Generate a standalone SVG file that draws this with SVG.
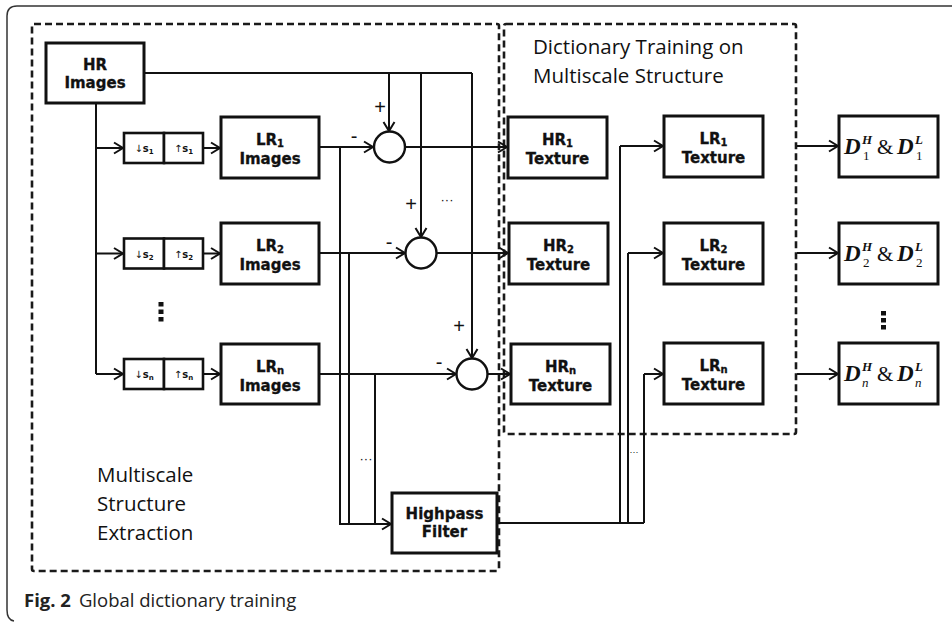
<svg xmlns="http://www.w3.org/2000/svg" width="952" height="622" viewBox="0 0 952 622">
<style>
  .frame{fill:none;stroke:#333;stroke-width:1.5}
  .region{fill:none;stroke:#1a1a1a;stroke-width:2.6;stroke-dasharray:7 4}
  .box{fill:#fff;stroke:#111;stroke-width:3}
  .sbox{fill:#fff;stroke:#111;stroke-width:2.6}
  .sum{fill:#fff;stroke:#111;stroke-width:2.4}
  .wire{fill:none;stroke:#111;stroke-width:2}
  .arrow{fill:none;stroke:#111;stroke-width:2;marker-end:url(#head)}
  .lbl{font-family:"DejaVu Sans",sans-serif;font-weight:bold;font-size:15px;fill:#111;text-anchor:middle;stroke:#111;stroke-width:0.3}
  .sub{font-size:10px}
  .tiny{font-family:"DejaVu Sans",sans-serif;font-weight:bold;font-size:10px;fill:#111;text-anchor:middle}
  .title{font-family:"Open Sans",sans-serif;font-size:20.5px;fill:#111}
  .sign{font-family:"Liberation Sans",sans-serif;font-size:20px;fill:#111;text-anchor:middle}
  .ell{font-family:"Liberation Sans",sans-serif;font-size:13px;fill:#111;text-anchor:middle}
  .math{font-family:"Liberation Serif",serif;fill:#111}
  .big{font-size:23px;font-weight:bold;font-style:italic}
  .sup{font-size:13px;font-weight:bold;font-style:italic}
  .low{font-size:13px}
  .amp{font-size:21px}
  .cap{font-family:"Open Sans",sans-serif;font-size:18.5px;fill:#222}
  .dot{fill:#111}
</style>
<defs>
  <marker id="head" viewBox="-10 -7 12 14" refX="0" refY="0" markerWidth="12" markerHeight="14" markerUnits="userSpaceOnUse" orient="auto">
    <path d="M-9,-5.5 L0,0 L-9,5.5" fill="none" stroke="#111" stroke-width="2"/>
  </marker>
</defs>

<rect width="952" height="622" fill="#fff"/>
<!-- page frame -->
<path class="frame" d="M952,6 H17 Q7,6 7,16 V610 Q7,620 14,621"/>

<!-- regions -->
<g id="region-extraction">
  <rect class="region" x="32" y="24" width="467" height="547" rx="2"/>
  <text class="title" x="97" y="482">Multiscale</text>
  <text class="title" x="97" y="511">Structure</text>
  <text class="title" x="97" y="540">Extraction</text>
</g>
<g id="region-training">
  <rect class="region" x="504" y="24" width="292" height="410" rx="2"/>
  <text class="title" x="533" y="54">Dictionary Training on</text>
  <text class="title" x="533" y="83">Multiscale Structure</text>
</g>

<!-- connectors -->
<g id="connectors">
  <!-- HR images to the three adders -->
  <path class="wire" d="M144,73 H472"/>
  <path class="arrow" d="M389,73 V131"/>
  <path class="arrow" d="M421,73 V237"/>
  <path class="arrow" d="M472,73 V358"/>
  <!-- HR images down to the scaling stages -->
  <path class="wire" d="M96,103 V374"/>
  <path class="arrow" d="M96,148 H123"/>
  <path class="arrow" d="M96,253.5 H123"/>
  <path class="arrow" d="M96,374 H123"/>
  <path class="arrow" d="M203,148 H220"/>
  <path class="arrow" d="M203,253.5 H220"/>
  <path class="arrow" d="M203,374 H220"/>
  <!-- LR images to adders -->
  <path class="arrow" d="M319,147 H373"/>
  <path class="arrow" d="M319,253 H405"/>
  <path class="arrow" d="M319,374 H456"/>
  <!-- LR images to highpass filter -->
  <path class="wire" d="M340,147 V524"/>
  <path class="wire" d="M349,253 V524"/>
  <path class="wire" d="M375,374 V524"/>
  <path class="arrow" d="M339,524 H391"/>
  <!-- adders to HR textures -->
  <path class="arrow" d="M405,147 H507"/>
  <path class="arrow" d="M436,253 H508"/>
  <path class="arrow" d="M487,374 H510"/>
  <!-- highpass filter to LR textures -->
  <path class="wire" d="M497,523 H644"/>
  <path class="wire" d="M620,523 V146"/>
  <path class="wire" d="M628,523 V253"/>
  <path class="wire" d="M644,523 V374"/>
  <path class="arrow" d="M620,146 H663"/>
  <path class="arrow" d="M628,253 H663"/>
  <path class="arrow" d="M644,374 H663"/>
  <!-- textures to dictionaries -->
  <path class="arrow" d="M797,146 H838"/>
  <path class="arrow" d="M797,253 H838"/>
  <path class="arrow" d="M797,374 H838"/>
  <!-- signs and ellipses -->
  <text class="sign" x="380" y="114">+</text>
  <text class="sign" x="354" y="143">-</text>
  <text class="sign" x="411" y="211">+</text>
  <text class="sign" x="389" y="249">-</text>
  <text class="sign" x="459" y="333">+</text>
  <text class="sign" x="439" y="369">-</text>
  <text class="ell" x="447" y="204">···</text>
  <text class="ell" x="366" y="463">···</text>
  <text class="ell" x="634" y="455" style="font-size:9px">···</text>
</g>

<!-- nodes -->
<g id="hr-images">
  <rect class="box" x="46" y="43" width="98" height="60"/>
  <text class="lbl" x="95" y="70">HR</text>
  <text class="lbl" x="95" y="88">Images</text>
</g>

<g id="scale-1">
  <rect class="sbox" x="124" y="133" width="40" height="30"/>
  <rect class="sbox" x="164" y="133" width="39" height="30"/>
  <text class="tiny" x="144" y="152"><tspan style="font-weight:normal">↓</tspan>s<tspan style="font-size:7px" dy="2">1</tspan></text>
  <text class="tiny" x="183.5" y="152"><tspan style="font-weight:normal">↑</tspan>s<tspan style="font-size:7px" dy="2">1</tspan></text>
</g>
<g id="scale-2">
  <rect class="sbox" x="124" y="238.5" width="40" height="30"/>
  <rect class="sbox" x="164" y="238.5" width="39" height="30"/>
  <text class="tiny" x="144" y="257.5"><tspan style="font-weight:normal">↓</tspan>s<tspan style="font-size:7px" dy="2">2</tspan></text>
  <text class="tiny" x="183.5" y="257.5"><tspan style="font-weight:normal">↑</tspan>s<tspan style="font-size:7px" dy="2">2</tspan></text>
</g>
<g id="scale-n">
  <rect class="sbox" x="124" y="359" width="40" height="30"/>
  <rect class="sbox" x="164" y="359" width="39" height="30"/>
  <text class="tiny" x="144" y="378"><tspan style="font-weight:normal">↓</tspan>s<tspan style="font-size:7px" dy="2">n</tspan></text>
  <text class="tiny" x="183.5" y="378"><tspan style="font-weight:normal">↑</tspan>s<tspan style="font-size:7px" dy="2">n</tspan></text>
</g>
<g id="scale-dots">
  <rect class="dot" x="158.5" y="302" width="5" height="4.5"/>
  <rect class="dot" x="158.5" y="309.5" width="5" height="4.5"/>
  <rect class="dot" x="158.5" y="317" width="5" height="4.5"/>
</g>

<g id="lr1-images">
  <rect class="box" x="221" y="117" width="98" height="61"/>
  <text class="lbl" x="270" y="145">LR<tspan class="sub" dy="2">1</tspan></text>
  <text class="lbl" x="270" y="164">Images</text>
</g>
<g id="lr2-images">
  <rect class="box" x="221" y="223" width="98" height="61"/>
  <text class="lbl" x="270" y="251">LR<tspan class="sub" dy="2">2</tspan></text>
  <text class="lbl" x="270" y="270">Images</text>
</g>
<g id="lrn-images">
  <rect class="box" x="221" y="344" width="98" height="60"/>
  <text class="lbl" x="270" y="372">LR<tspan class="sub" dy="2">n</tspan></text>
  <text class="lbl" x="270" y="391">Images</text>
</g>

<g id="adder-1"><circle class="sum" cx="389.5" cy="147" r="15.5"/></g>
<g id="adder-2"><circle class="sum" cx="421" cy="253" r="15.5"/></g>
<g id="adder-n"><circle class="sum" cx="472" cy="374" r="15.5"/></g>

<g id="highpass">
  <rect class="box" x="392" y="493" width="105" height="60"/>
  <text class="lbl" x="444.5" y="519">Highpass</text>
  <text class="lbl" x="444.5" y="537">Filter</text>
</g>

<g id="hr1-texture">
  <rect class="box" x="508" y="117" width="99" height="61"/>
  <text class="lbl" x="557.5" y="145">HR<tspan class="sub" dy="2">1</tspan></text>
  <text class="lbl" x="557.5" y="164">Texture</text>
</g>
<g id="hr2-texture">
  <rect class="box" x="509" y="223" width="99" height="61"/>
  <text class="lbl" x="558.5" y="251">HR<tspan class="sub" dy="2">2</tspan></text>
  <text class="lbl" x="558.5" y="270">Texture</text>
</g>
<g id="hrn-texture">
  <rect class="box" x="511" y="344" width="99" height="60"/>
  <text class="lbl" x="560.5" y="372">HR<tspan class="sub" dy="2">n</tspan></text>
  <text class="lbl" x="560.5" y="391">Texture</text>
</g>

<g id="lr1-texture">
  <rect class="box" x="664" y="116" width="99" height="61"/>
  <text class="lbl" x="713.5" y="144">LR<tspan class="sub" dy="2">1</tspan></text>
  <text class="lbl" x="713.5" y="163">Texture</text>
</g>
<g id="lr2-texture">
  <rect class="box" x="664" y="223" width="99" height="61"/>
  <text class="lbl" x="713.5" y="251">LR<tspan class="sub" dy="2">2</tspan></text>
  <text class="lbl" x="713.5" y="270">Texture</text>
</g>
<g id="lrn-texture">
  <rect class="box" x="664" y="343" width="99" height="61"/>
  <text class="lbl" x="713.5" y="371">LR<tspan class="sub" dy="2">n</tspan></text>
  <text class="lbl" x="713.5" y="390">Texture</text>
</g>

<!-- dictionary pairs: stacked super/subscripts placed by hand -->
<g id="dict-1">
  <rect class="box" x="839" y="116" width="99" height="61"/>
  <text class="math big" x="844" y="154">D</text>
  <text class="math sup" x="862" y="144">H</text>
  <text class="math low" x="863" y="160">1</text>
  <text class="math amp" x="877" y="154">&amp;</text>
  <text class="math big" x="897" y="154">D</text>
  <text class="math sup" x="915" y="144">L</text>
  <text class="math low" x="916" y="160">1</text>
</g>
<g id="dict-2">
  <rect class="box" x="839" y="223" width="99" height="61"/>
  <text class="math big" x="844" y="261">D</text>
  <text class="math sup" x="862" y="251">H</text>
  <text class="math low" x="863" y="267">2</text>
  <text class="math amp" x="877" y="261">&amp;</text>
  <text class="math big" x="897" y="261">D</text>
  <text class="math sup" x="915" y="251">L</text>
  <text class="math low" x="916" y="267">2</text>
</g>
<g id="dict-n">
  <rect class="box" x="839" y="343" width="99" height="61"/>
  <text class="math big" x="844" y="381">D</text>
  <text class="math sup" x="862" y="371">H</text>
  <text class="math low" x="862" y="387" style="font-style:italic">n</text>
  <text class="math amp" x="877" y="381">&amp;</text>
  <text class="math big" x="897" y="381">D</text>
  <text class="math sup" x="915" y="371">L</text>
  <text class="math low" x="915" y="387" style="font-style:italic">n</text>
</g>
<g id="dict-dots">
  <rect class="dot" x="881" y="311" width="5" height="4.5"/>
  <rect class="dot" x="881" y="318" width="5" height="4.5"/>
  <rect class="dot" x="881" y="325" width="5" height="4.5"/>
</g>

<!-- caption -->
<text class="cap" x="24" y="607"><tspan font-weight="bold">Fig. 2</tspan><tspan dx="8">Global dictionary training</tspan></text>
</svg>
